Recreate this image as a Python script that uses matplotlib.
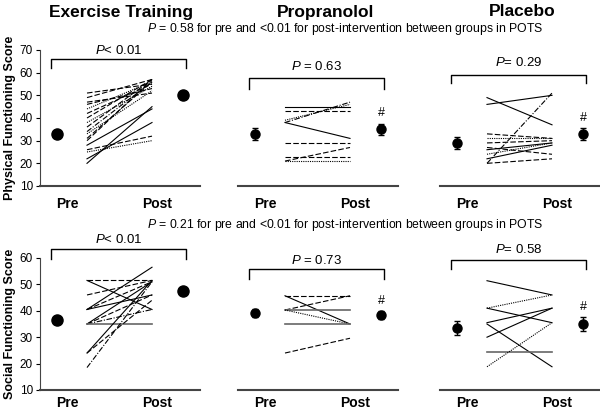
import numpy as np
import matplotlib
matplotlib.use("Agg")
import matplotlib.pyplot as plt

plt.rcParams['font.family'] = ['Liberation Sans', 'DejaVu Sans']
plt.rcParams['mathtext.fontset'] = 'custom'
plt.rcParams['mathtext.rm'] = 'Liberation Sans'
plt.rcParams['mathtext.it'] = 'Liberation Sans:italic'

groups = ["Exercise Training", "Propranolol", "Placebo"]
rows = ["Physical Functioning Score", "Social Functioning Score"]
p_group = [["$P$< 0.01", "$P$ = 0.63", "$P$= 0.29"],
           ["$P$< 0.01", "$P$ = 0.73", "$P$= 0.58"]]
p_between = ["$P$ = 0.58 for pre and <0.01 for post-intervention between groups in POTS",
             "$P$ = 0.21 for pre and <0.01 for post-intervention between groups in POTS"]

# individual subjects, physical functioning
ex_pf_pre = [51, 49, 47, 46, 44, 42, 40, 38, 36, 34, 33, 31, 30, 28, 26, 25, 22, 20]
ex_pf_post = [55, 57, 51, 53, 56, 55, 57, 54, 57, 56, 52, 56, 57, 44, 32, 30, 38, 45]
ex_pf_sty = ['--', '--', '--', '--', ':', '--', '--', ':', '--', '-.', ':', '--', '--', '-', '--', ':', '-', '-']

pr_pf_pre = [45, 43, 38, 39, 38, 29, 23, 21, 21]
pr_pf_post = [45, 43, 47, 46, 31, 29, 23, 27, 21]
pr_pf_sty = ['-', '--', '-.', ':', '-', '--', '--', '--', ':']

pl_pf_pre = [49, 46, 20, 33, 31, 29, 27, 26, 24, 22, 20]
pl_pf_post = [37, 50, 51, 31, 31, 30, 24, 29, 29, 28, 22]
pl_pf_sty = ['-', '-', '-.', '--', ':', '--', '--', '-', ':', '-', '--']

# individual subjects, social functioning
ex_sf_pre = [51.5, 51.5, 46, 40.5, 40.5, 40.5, 35, 35, 35, 35, 24, 24, 18.5]
ex_sf_post = [51.5, 40.5, 51.5, 56.5, 51, 46, 51, 46, 40.5, 35, 51.5, 44, 51]
ex_sf_sty = ['--', '-', '--', '-', '--', '-', '-', '--', '-.', 'g', '-', '--', '-.']

pr_sf_pre = [45.7, 45.7, 40.3, 40.3, 40.3, 35, 24]
pr_sf_post = [45.7, 35, 45.7, 40.3, 35, 35, 29.6]
pr_sf_sty = ['--', '-', '--', 'g', ':', 'g', '--']

pl_sf_pre = [51.4, 41, 41, 35.5, 30, 35, 24.3, 18.8]
pl_sf_post = [46, 46, 35.5, 41, 41, 18.8, 24.3, 35.5]
pl_sf_sty = ['-', ':', '-', '-', '-', '-', 'g', ':']

# group means (pre, post) and SE
mean_pre = [[33, 33, 29], [36.5, 39, 33.5]]
mean_post = [[50, 35, 33], [47.5, 38.5, 35]]
mean_se = [[0.8, 2.5, 2.5], [1.0, 1.5, 2.5]]

subjects = [[(ex_pf_pre, ex_pf_post, ex_pf_sty), (pr_pf_pre, pr_pf_post, pr_pf_sty), (pl_pf_pre, pl_pf_post, pl_pf_sty)],
            [(ex_sf_pre, ex_sf_post, ex_sf_sty), (pr_sf_pre, pr_sf_post, pr_sf_sty), (pl_sf_pre, pl_sf_post, pl_sf_sty)]]

# layout (pixels)
W, H = 600, 412
col_x = [40, 238, 440]
col_w = 160
row_y = [(50, 186), (258, 390)]
ylims = [(10, 70), (10, 60)]
xlab_pad = [8, 4]
# bracket: (top, tip, text y)
brackets = [[(66, 62, 70), (57.6, 53, 62.5), (59, 55.5, 64.7)],
            [(63.4, 59.6, 67), (55.8, 52, 59.2), (59.2, 55.8, 63.4)]]

X_PRE, X0, X1, X_POST = 17, 47, 112, 143

dash = {'--': (0, (5, 2)), ':': (0, (1, 1)), '-.': (0, (5, 1.5, 1, 1.5)), '-': '-', 'g': '-'}

fig = plt.figure(figsize=(6, 4.12), dpi=100)

for r in range(2):
    top, bot = row_y[r]
    for c in range(3):
        ax = fig.add_axes([col_x[c] / W, 1 - bot / H, col_w / W, (bot - top) / H])
        ax.set_xlim(0, 160)
        ax.set_ylim(*ylims[r])
        pre, post, sty = subjects[r][c]
        for a, b, s in zip(pre, post, sty):
            ax.plot([X0, X1], [a, b], color='#666666' if s == 'g' else 'black',
                    linestyle=dash[s], lw=0.8 if s != 'g' else 1.2)
        if c == 0:
            ax.plot([X_PRE, X_POST], [mean_pre[r][c], mean_post[r][c]], 'o',
                    color='black', ms=8, ls='none')
        else:
            ax.errorbar([X_PRE, X_POST], [mean_pre[r][c], mean_post[r][c]],
                        yerr=mean_se[r][c], fmt='o', color='black', ms=6.5,
                        capsize=2, elinewidth=1)
            ax.annotate('#', (X_POST, mean_post[r][c] + mean_se[r][c]),
                        xytext=(0, 3), textcoords='offset points',
                        ha='center', va='bottom', fontsize=9)
        bt, tip, ty = brackets[r][c]
        bx0, bx1 = 11, 146
        ax.plot([bx0, bx0, bx1, bx1], [tip, bt, bt, tip], color='black', lw=1, clip_on=False)
        ax.text((bx0 + bx1) / 2, ty, p_group[r][c], ha='center', va='center', fontsize=9.5)

        ax.set_xticks([27, 117])
        ax.set_xticklabels(['Pre', 'Post'], fontweight='bold', fontsize=10)
        ax.tick_params(axis='x', length=0, pad=xlab_pad[r])
        ax.spines['top'].set_visible(False)
        ax.spines['right'].set_visible(False)
        ax.spines['bottom'].set_color('#444444')
        ax.spines['bottom'].set_linewidth(1.5)
        if c == 0:
            ax.set_yticks(np.arange(ylims[r][0], ylims[r][1] + 1, 10))
            ax.tick_params(axis='y', labelsize=8.5, direction='out', length=3, pad=2)
            ax.spines['left'].set_color('#444444')
            ax.set_ylabel(rows[r], fontweight='bold', fontsize=9, labelpad=3)
        else:
            ax.spines['left'].set_visible(False)
            ax.set_yticks([])

    fig.text(345 / W, 1 - (29 if r == 0 else 225) / H, p_between[r],
             ha='center', va='center', fontsize=8.8)

title_x = [121, 326, 522]
for c in range(3):
    fig.text(title_x[c] / W, 1 - 12 / H, groups[c], ha='center', va='center',
             fontsize=12.5, fontweight='bold')

fig.savefig('out.png', dpi=100)
